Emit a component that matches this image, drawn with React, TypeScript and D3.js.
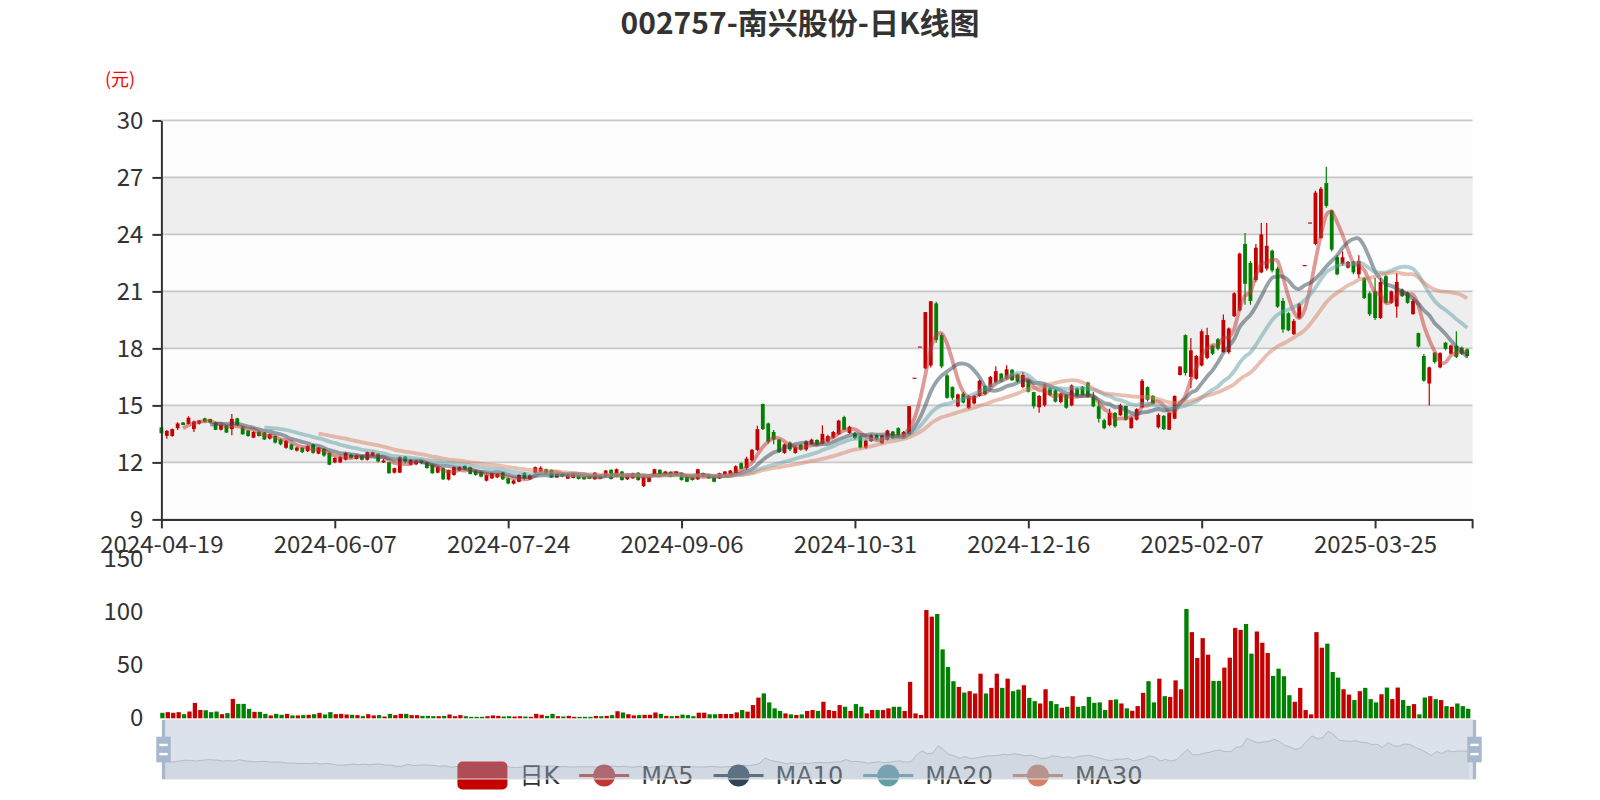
import { useEffect, useRef } from "react";
import * as d3 from "d3";

const title = "002757-南兴股份-日K线图";
const unitLabel = "(元)";
const firstDay = "2024-04-19";
const lastDay = "2025-04-21";
// exchange closed on these weekdays
const holidays = [
  "2024-05-01", "2024-05-02", "2024-05-03", "2024-06-10", "2024-09-16", "2024-09-17",
  "2024-10-01", "2024-10-02", "2024-10-03", "2024-10-04", "2024-10-07", "2025-01-01",
  "2025-01-28", "2025-01-29", "2025-01-30", "2025-01-31", "2025-02-03", "2025-02-04", "2025-04-04",
];
const labelEvery = 32;

const priceTicks = [9, 12, 15, 18, 21, 24, 27, 30];
const volumeTicks = [0, 50, 100, 150];

// [open, close, low, high]
const kData: [number, number, number, number][] = [
  [13.84, 13.54, 13.5, 13.88], [13.4, 13.66, 13.25, 13.71], [13.39, 13.75, 13.35, 13.78], [13.8, 14.05, 13.7, 14.11],
  [14.1, 13.97, 13.95, 14.12], [14.02, 14.35, 14.0, 14.43], [13.75, 14.15, 13.6, 14.2], [14.05, 14.2, 14.0, 14.22],
  [14.32, 14.15, 14.1, 14.35], [14.28, 14.1, 14.05, 14.3], [14.1, 13.72, 13.7, 14.15], [13.72, 13.96, 13.68, 14.0],
  [13.93, 13.57, 13.55, 13.96], [13.75, 14.29, 13.43, 14.55], [14.32, 13.96, 13.9, 14.35], [13.84, 13.48, 13.45, 13.88],
  [13.66, 13.39, 13.35, 13.7], [13.3, 13.61, 13.28, 13.64], [13.61, 13.39, 13.36, 13.64], [13.57, 13.21, 13.18, 13.6],
  [13.25, 13.48, 13.2, 13.52], [13.39, 13.04, 13.0, 13.42], [13.21, 12.95, 12.9, 13.25], [12.77, 13.13, 12.72, 13.18],
  [12.95, 12.68, 12.65, 12.98], [12.62, 12.78, 12.58, 12.82], [12.77, 12.54, 12.5, 12.8], [12.59, 12.86, 12.55, 12.9],
  [12.95, 12.5, 12.46, 12.98], [12.46, 12.77, 12.43, 12.8], [12.71, 12.36, 12.3, 12.75], [12.5, 11.88, 11.85, 12.52],
  [12.0, 12.23, 11.95, 12.27], [12.0, 12.29, 11.97, 12.32], [12.14, 12.5, 12.1, 12.54], [12.41, 12.23, 12.2, 12.45],
  [12.18, 12.36, 12.15, 12.4], [12.36, 12.14, 12.1, 12.4], [12.14, 12.54, 12.1, 12.58], [12.36, 12.54, 12.33, 12.58],
  [12.46, 12.05, 12.0, 12.5], [12.0, 12.1, 11.97, 12.18], [12.0, 11.43, 11.4, 12.02], [11.46, 11.7, 11.42, 11.72],
  [11.46, 12.29, 11.44, 12.32], [12.3, 12.05, 11.95, 12.34], [11.88, 12.14, 11.85, 12.18], [11.9, 12.05, 11.85, 12.14],
  [12.11, 11.96, 11.9, 12.14], [12.0, 11.7, 11.68, 12.03], [11.88, 11.43, 11.4, 11.9], [11.46, 11.75, 11.43, 11.78],
  [11.7, 11.11, 11.08, 11.73], [11.1, 11.6, 11.05, 11.62], [11.34, 11.75, 11.3, 11.78], [11.57, 11.75, 11.55, 11.78],
  [11.82, 11.64, 11.6, 11.85], [11.75, 11.39, 11.36, 11.78], [11.57, 11.34, 11.3, 11.6], [11.5, 11.25, 11.22, 11.53],
  [11.04, 11.34, 11.0, 11.37], [11.16, 11.43, 11.12, 11.46], [11.21, 11.39, 11.18, 11.42], [11.46, 11.11, 11.08, 11.5],
  [11.16, 10.89, 10.85, 11.2], [10.88, 11.05, 10.84, 11.1], [10.98, 11.34, 10.95, 11.37], [11.46, 11.14, 11.1, 11.48],
  [11.11, 11.34, 11.08, 11.37], [11.46, 11.75, 11.42, 11.78], [11.52, 11.72, 11.5, 11.8], [11.64, 11.43, 11.4, 11.68],
  [11.61, 11.21, 11.18, 11.63], [11.21, 11.39, 11.18, 11.42], [11.43, 11.25, 11.22, 11.46], [11.14, 11.36, 11.12, 11.38],
  [11.18, 11.43, 11.16, 11.46], [11.3, 11.13, 11.1, 11.33], [11.25, 11.11, 11.09, 11.27], [11.29, 11.14, 11.12, 11.3],
  [11.11, 11.46, 11.09, 11.48], [11.34, 11.14, 11.12, 11.36], [11.25, 11.57, 11.23, 11.6], [11.61, 11.13, 11.1, 11.64],
  [11.25, 11.64, 11.22, 11.68], [11.52, 11.07, 11.05, 11.55], [11.11, 11.34, 11.08, 11.36], [11.16, 11.43, 11.14, 11.46],
  [11.46, 11.07, 11.04, 11.48], [10.75, 11.25, 10.71, 11.28], [10.98, 11.25, 10.95, 11.28], [11.28, 11.64, 11.25, 11.67],
  [11.61, 11.38, 11.35, 11.64], [11.34, 11.52, 11.3, 11.55], [11.5, 11.25, 11.22, 11.53], [11.32, 11.52, 11.3, 11.55],
  [11.46, 11.07, 11.04, 11.48], [11.29, 10.98, 10.95, 11.3], [11.25, 11.07, 11.05, 11.27], [11.11, 11.64, 11.08, 11.67],
  [11.25, 11.43, 11.22, 11.46], [11.38, 11.16, 11.14, 11.4], [11.25, 10.98, 10.95, 11.27], [11.16, 11.43, 11.13, 11.46],
  [11.3, 11.52, 11.28, 11.55], [11.34, 11.57, 11.3, 11.6], [11.43, 11.8, 11.4, 11.85], [11.96, 11.66, 11.62, 12.0],
  [11.7, 12.2, 11.62, 12.3], [12.1, 12.66, 12.05, 12.7], [12.66, 13.75, 12.6, 13.93], [15.07, 13.75, 13.7, 15.1],
  [14.05, 13.1, 13.0, 14.1], [13.6, 13.2, 12.95, 13.7], [13.2, 12.55, 12.5, 13.25], [12.5, 12.95, 12.45, 13.0],
  [13.04, 12.68, 12.6, 13.1], [12.5, 12.8, 12.45, 12.85], [12.92, 12.68, 12.62, 12.95], [12.68, 13.1, 12.6, 13.15],
  [12.98, 13.2, 12.95, 13.25], [13.18, 12.94, 12.9, 13.22], [13.0, 13.5, 12.95, 13.95], [13.1, 13.38, 13.05, 13.45],
  [13.3, 13.6, 13.25, 13.65], [13.48, 14.2, 13.45, 14.25], [14.38, 13.72, 13.7, 14.45], [13.55, 13.88, 13.5, 13.92],
  [13.53, 13.28, 13.2, 13.6], [13.36, 12.77, 12.72, 13.4], [12.77, 13.15, 12.72, 13.2], [13.12, 13.42, 13.08, 13.48],
  [13.44, 13.22, 13.18, 13.48], [13.0, 13.42, 12.95, 13.46], [13.2, 13.68, 13.15, 13.72], [13.62, 13.27, 13.22, 13.66],
  [13.8, 13.38, 13.33, 13.85], [13.3, 13.6, 13.25, 13.65], [13.5, 14.96, 13.45, 14.96], [16.46, 16.46, 16.46, 16.46],
  [18.1, 18.1, 18.1, 18.1], [16.95, 19.91, 16.9, 19.91], [17.1, 20.48, 17.0, 20.5], [20.37, 18.45, 18.3, 20.45],
  [18.7, 17.05, 16.95, 18.8], [16.58, 15.4, 15.35, 16.65], [15.97, 15.4, 15.3, 16.0], [14.95, 15.58, 14.9, 15.62],
  [15.62, 15.15, 15.1, 15.7], [14.85, 15.5, 14.8, 15.55], [15.1, 15.5, 15.05, 15.55], [15.5, 16.3, 15.45, 16.35],
  [16.0, 15.6, 15.55, 16.05], [15.97, 16.5, 15.9, 16.55], [16.2, 16.8, 16.15, 17.06], [16.67, 16.24, 16.2, 16.7],
  [16.41, 16.9, 16.35, 17.11], [16.88, 16.32, 16.3, 16.9], [16.64, 16.26, 16.2, 16.7], [15.97, 16.6, 15.9, 16.76],
  [16.32, 15.72, 15.68, 16.35], [15.7, 14.95, 14.84, 15.72], [14.9, 15.5, 14.61, 15.55], [15.0, 16.1, 14.93, 16.15],
  [15.89, 15.56, 15.5, 15.95], [15.8, 15.2, 15.15, 15.85], [15.18, 15.6, 15.1, 15.65], [15.56, 14.88, 14.83, 15.6],
  [15.0, 16.05, 14.95, 16.1], [15.9, 15.52, 15.45, 15.95], [15.98, 15.55, 15.5, 16.02], [16.2, 15.45, 15.4, 16.25],
  [15.45, 14.95, 14.9, 15.7], [14.95, 14.3, 14.1, 15.21], [14.22, 13.8, 13.75, 14.3], [13.96, 14.6, 13.9, 14.83],
  [14.6, 13.9, 13.82, 14.65], [14.48, 15.0, 14.45, 15.09], [14.97, 14.25, 14.2, 15.0], [13.8, 14.35, 13.78, 14.4],
  [14.25, 14.8, 14.2, 14.85], [14.9, 16.3, 14.88, 16.39], [15.96, 15.3, 15.2, 16.0], [15.5, 15.1, 15.05, 15.55],
  [13.85, 14.5, 13.78, 14.57], [14.45, 13.75, 13.7, 14.5], [13.72, 14.6, 13.7, 14.65], [14.3, 15.5, 14.27, 15.52],
  [16.6, 17.05, 16.57, 17.05], [18.7, 16.7, 16.57, 18.74], [16.5, 17.9, 15.9, 18.55], [16.4, 17.6, 16.35, 17.65],
  [17.1, 18.9, 17.05, 19.0], [17.5, 18.7, 17.43, 19.09], [18.13, 17.72, 17.65, 18.2], [18.48, 17.98, 17.9, 18.55],
  [17.8, 19.5, 17.78, 19.78], [17.8, 19.05, 17.7, 19.1], [19.7, 20.9, 19.65, 20.95], [20.0, 22.99, 19.96, 23.03],
  [23.5, 21.4, 20.3, 24.08], [22.5, 20.5, 20.3, 22.6], [21.6, 23.3, 21.5, 23.5], [22.0, 24.0, 21.96, 24.6],
  [22.2, 23.4, 22.1, 24.6], [23.14, 22.1, 22.0, 23.2], [22.2, 20.2, 20.13, 22.3], [20.5, 19.0, 18.83, 20.65],
  [19.85, 18.95, 18.9, 19.9], [18.75, 19.45, 18.7, 19.55], [19.6, 20.35, 19.55, 20.4], [22.39, 22.39, 22.39, 22.39],
  [24.63, 24.63, 24.63, 24.63], [23.5, 26.2, 23.43, 26.3], [23.8, 26.4, 23.78, 26.5], [26.7, 25.5, 25.4, 27.56],
  [25.26, 23.2, 23.1, 25.3], [22.8, 21.9, 21.85, 22.9], [22.45, 22.8, 22.35, 23.1], [22.25, 22.55, 22.2, 22.6],
  [22.57, 22.0, 21.9, 22.6], [21.9, 22.6, 21.7, 22.9], [21.7, 20.65, 20.6, 21.75], [20.9, 19.8, 19.7, 21.0],
  [21.0, 19.6, 19.5, 21.7], [19.6, 21.5, 19.55, 21.7], [21.8, 20.4, 20.36, 21.87], [20.4, 21.0, 20.35, 21.05],
  [20.2, 21.5, 19.61, 21.96], [21.09, 20.75, 20.7, 21.15], [20.95, 20.4, 20.35, 21.0], [19.8, 20.5, 19.78, 20.6],
  [18.8, 18.1, 18.04, 18.83], [17.6, 16.3, 16.25, 17.7], [16.15, 17.0, 15.0, 17.05], [17.78, 17.28, 17.2, 17.8],
  [17.0, 17.75, 16.95, 17.8], [18.3, 17.98, 17.9, 18.35], [17.72, 18.15, 17.68, 18.2], [18.13, 17.55, 17.5, 18.9],
  [18.04, 17.72, 17.65, 18.1], [17.95, 17.6, 17.5, 18.0],
];

const volumes = [
  5.2, 5.8, 5.2, 5.8, 3.9, 6.4, 14.5, 7.9, 7.6, 5.8, 6.4, 3.9, 4.9, 18.3, 13.6, 13.6, 8.9, 6.1, 6.1, 4.2,
  2.7, 4.2, 3.3, 4.2, 2.7, 2.7, 3.0, 3.3, 3.9, 5.2, 3.6, 5.8, 3.9, 4.2, 3.6, 3.3, 3.0, 2.0, 3.9, 2.7,
  3.0, 1.7, 4.2, 3.0, 4.2, 4.2, 3.0, 3.0, 2.3, 2.3, 2.0, 2.0, 2.3, 3.6, 2.0, 3.0, 2.0, 1.4, 1.4, 1.4,
  2.0, 2.7, 2.3, 1.7, 2.0, 1.7, 2.0, 1.7, 1.4, 4.2, 3.3, 2.3, 4.2, 2.0, 1.7, 2.3, 1.4, 1.4, 1.4, 1.4,
  2.3, 2.0, 2.3, 3.0, 6.7, 5.5, 3.9, 2.7, 3.0, 3.3, 3.3, 5.5, 4.2, 2.3, 2.0, 2.3, 3.5, 3.0, 2.0, 5.3,
  5.3, 3.8, 3.8, 4.1, 4.1, 4.1, 5.6, 7.8, 6.3, 12.5, 19.5, 23.5, 15, 9.4, 6.9, 4.6, 3.7, 3.1, 3.7, 6.9,
  7.8, 6.9, 15.6, 7.8, 6.9, 12.5, 10.9, 6.9, 13.4, 10.9, 4.6, 7.8, 7.8, 7.8, 9.4, 10.9, 10.9, 6.9, 34.4, 4.6,
  3.1, 102.2, 95.9, 98.4, 65, 48.4, 35, 29.6, 24.3, 25.6, 23.4, 42.1, 23.4, 28.7, 42.1, 28.7, 37.4, 25.6, 27.1, 31.2,
  19.3, 16.2, 14, 27.4, 16.2, 13.4, 9.9, 10.9, 20.9, 10.9, 11.5, 20.2, 14.6, 15, 7.8, 17.2, 17.8, 14, 9.4, 7.1,
  11.5, 24, 35, 15, 37.4, 20.9, 20.2, 35.8, 27.4, 103.1, 81.3, 56.9, 75.6, 60, 35.3, 35.3, 47.8, 57.2, 85.3, 83.4,
  89, 61, 81.9, 71.3, 61.6, 40, 46.8, 39.7, 21.8, 15.6, 28.7, 7.8, 3.7, 81.3, 66.6, 70.4, 43.7, 38.4, 27.4, 22.4,
  17.2, 25.6, 28.7, 18.1, 15, 22.7, 29, 18.1, 29, 17.2, 11.8, 13.4, 3.7, 19.6, 20.9, 18.1, 17.2, 11.5, 10.9, 14,
  11.5, 9,
];

const maPeriods = [5, 10, 20, 30];
const maColors = ["#c23531", "#2f4554", "#61a0a8", "#d48265"];
const upColor = "#c40000";
const downColor = "#008000";

function tradingDays(from: string, to: string, closed: string[]) {
  const skip = new Set(closed);
  const out: string[] = [];
  const end = new Date(to + "T00:00:00Z");
  for (let d = new Date(from + "T00:00:00Z"); d <= end; d.setUTCDate(d.getUTCDate() + 1)) {
    const wd = d.getUTCDay();
    const s = d.toISOString().slice(0, 10);
    if (wd !== 0 && wd !== 6 && !skip.has(s)) out.push(s);
  }
  return out;
}

function movingAverage(period: number) {
  return kData.map((_, i) => {
    if (i < period - 1) return null;
    let s = 0;
    for (let j = 0; j < period; j++) s += kData[i - j][1];
    return s / period;
  });
}

const FONT = "'Noto Sans CJK SC', 'Noto Sans', sans-serif";
const LEGEND_FONT = "'DejaVu Sans', 'Noto Sans CJK SC', sans-serif";

export default function App() {
  const ref = useRef<SVGSVGElement>(null);
  const width = 1600;
  const height = 800;

  useEffect(() => {
    draw();
  });

  function draw() {
    const svg = d3.select(ref.current);
    svg.selectAll("*").remove();

    const dates = tradingDays(firstDay, lastDay, holidays);
    const L = 161.4, R = 1472.6, T = 120.4, B = 519.4;
    const VT = 559.3, VB = 718.3;

    const x = d3.scalePoint<string>().domain(dates).range([L, R]);
    const y = d3.scaleLinear().domain([9, 30]).range([B, T]);
    const vy = d3.scaleLinear().domain([0, 150]).range([VB, VT]);
    const xi = (i: number) => x(dates[i])!;

    svg.append("rect").attr("width", width).attr("height", height).attr("fill", "#fff");

    // title and unit
    svg.append("text")
      .attr("x", 800).attr("y", 34)
      .attr("text-anchor", "middle")
      .attr("font-family", FONT).attr("font-size", 30).attr("font-weight", 700)
      .attr("fill", "#333")
      .text(title);
    svg.append("text")
      .attr("x", 120).attr("y", 86)
      .attr("text-anchor", "middle")
      .attr("font-family", FONT).attr("font-size", 18)
      .attr("fill", "#f00")
      .text(unitLabel);

    // split areas + split lines
    const plot = svg.append("g");
    priceTicks.slice(0, -1).forEach((t, i) => {
      plot.append("rect")
        .attr("x", L).attr("width", R - L)
        .attr("y", y(priceTicks[i + 1])).attr("height", y(t) - y(priceTicks[i + 1]))
        .attr("fill", i % 2 === 0 ? "#fdfdfd" : "#eeeeee");
    });
    priceTicks.forEach((t) => {
      plot.append("line")
        .attr("x1", L).attr("x2", R).attr("y1", y(t)).attr("y2", y(t))
        .attr("stroke", "#c8c8c8").attr("stroke-width", 1.6);
    });

    // candles
    const bw = 3.8;
    kData.forEach((d, i) => {
      const [o, c, lo, hi] = d;
      const col = c >= o ? upColor : downColor;
      const cx = xi(i);
      plot.append("line")
        .attr("x1", cx).attr("x2", cx).attr("y1", y(hi)).attr("y2", y(lo))
        .attr("stroke", col).attr("stroke-width", 1.2);
      const top = y(Math.max(o, c));
      plot.append("rect")
        .attr("x", cx - bw / 2).attr("y", top)
        .attr("width", bw).attr("height", Math.max(1.2, y(Math.min(o, c)) - top))
        .attr("fill", col);
    });

    // moving averages
    maPeriods.forEach((p, k) => {
      const ma = movingAverage(p);
      const line = d3.line<number | null>()
        .defined((v) => v !== null)
        .x((_, i) => xi(i))
        .y((v) => y(v as number))
        .curve(d3.curveCardinal.tension(0.2));
      plot.append("path")
        .attr("d", line(ma))
        .attr("fill", "none")
        .attr("stroke", maColors[k])
        .attr("stroke-width", 3.8)
        .attr("stroke-opacity", 0.5);
    });

    // axes
    const labelDates = dates.filter((_, i) => i % labelEvery === 0);
    const xAxis = svg.append("g")
      .attr("transform", `translate(0,${B})`)
      .call(d3.axisBottom(x).tickValues(labelDates).tickSize(9).tickSizeOuter(0).tickPadding(8));
    xAxis.select(".domain").attr("stroke", "#333").attr("stroke-width", 2);
    xAxis.selectAll(".tick line").attr("stroke", "#333").attr("stroke-width", 2);
    xAxis.selectAll("text").attr("font-family", FONT).attr("font-size", 24).attr("fill", "#333");
    svg.append("line")
      .attr("x1", R).attr("x2", R).attr("y1", B).attr("y2", B + 9)
      .attr("stroke", "#333").attr("stroke-width", 2);

    const yAxis = svg.append("g")
      .attr("transform", `translate(${L},0)`)
      .call(d3.axisLeft(y).tickValues(priceTicks).tickSize(9).tickSizeOuter(0).tickPadding(9));
    yAxis.select(".domain").attr("stroke", "#333").attr("stroke-width", 2);
    yAxis.selectAll(".tick line").attr("stroke", "#333").attr("stroke-width", 2);
    yAxis.selectAll("text").attr("font-family", FONT).attr("font-size", 24).attr("fill", "#333");

    // volume
    const vol = svg.append("g");
    volumes.forEach((v, i) => {
      const [o, c] = kData[i];
      vol.append("rect")
        .attr("x", xi(i) - 2.15 + 1).attr("y", vy(v))
        .attr("width", 4.3).attr("height", VB - vy(v))
        .attr("fill", c >= o ? upColor : downColor);
    });
    const vAxis = svg.append("g")
      .attr("transform", `translate(${L},0)`)
      .call(d3.axisLeft(vy).tickValues(volumeTicks).tickSize(0).tickPadding(18));
    vAxis.select(".domain").remove();
    vAxis.selectAll("text").attr("font-family", FONT).attr("font-size", 24).attr("fill", "#333");

    // legend
    const legend = svg.append("g");
    const names = ["日K", ...maPeriods.map((p) => "MA" + p)];
    const colors = [upColor, ...maColors];
    const ly = 775.5;
    const items = names.map((n, k) => {
      const g = legend.append("g");
      const t = g.append("text")
        .attr("x", 62).attr("y", ly + 8.5)
        .attr("font-family", LEGEND_FONT).attr("font-size", 24).attr("fill", "#333")
        .text(n);
      if (k === 0) {
        g.append("rect").attr("x", 0).attr("y", ly - 14).attr("width", 50).attr("height", 28)
          .attr("rx", 5).attr("fill", colors[k]);
      } else {
        g.append("line").attr("x1", 0).attr("x2", 50).attr("y1", ly).attr("y2", ly)
          .attr("stroke", colors[k]).attr("stroke-width", 3);
        g.append("circle").attr("cx", 25).attr("cy", ly).attr("r", 11).attr("fill", colors[k]);
      }
      return { g, w: 62 + (t.node() as SVGTextElement).getComputedTextLength() };
    });
    const gap = 20;
    const total = d3.sum(items, (d) => d.w) + gap * (items.length - 1);
    let lx = 800 - total / 2;
    items.forEach((it) => {
      it.g.attr("transform", `translate(${lx},0)`);
      lx += it.w + gap;
    });

    // data zoom slider
    const SX0 = 163.5, SX1 = 1474.5, SY0 = 720, SY1 = 779;
    const opens = kData.map((d) => d[0]);
    const [omin, omax] = d3.extent(opens) as [number, number];
    const pad = (omax - omin) * 0.3;
    const sx = d3.scaleLinear().domain([0, dates.length - 1]).range([SX0, SX1]);
    const sy = d3.scaleLinear().domain([omin - pad, omax + pad]).range([SY1, SY0]);
    const slider = svg.append("g");
    slider.append("path")
      .attr("d", d3.area<number>().x((_, i) => sx(i)).y0(SY1).y1((v) => sy(v))(opens))
      .attr("fill", "#2f4554").attr("fill-opacity", 0.09);
    slider.append("path")
      .attr("d", d3.line<number>().x((_, i) => sx(i)).y((v) => sy(v))(opens))
      .attr("fill", "none").attr("stroke", "#2f4554").attr("stroke-opacity", 0.3).attr("stroke-width", 1);
    slider.append("rect")
      .attr("x", SX0).attr("y", SY0).attr("width", SX1 - SX0).attr("height", SY1 - SY0)
      .attr("fill", "rgba(167,183,204,0.4)").attr("stroke", "#ddd").attr("stroke-width", 1);
    [SX0, SX1].forEach((hx) => {
      slider.append("rect").attr("x", hx - 1.65).attr("y", SY0).attr("width", 3.3).attr("height", SY1 - SY0)
        .attr("fill", "#a7b7cc");
      slider.append("rect").attr("x", hx - 7.2).attr("y", 736.7).attr("width", 14.4).attr("height", 25.6)
        .attr("fill", "#a7b7cc");
      [743.7, 752.9].forEach((sy0) => {
        slider.append("rect").attr("x", hx - 4.2).attr("y", sy0).attr("width", 8.4).attr("height", 2.4)
          .attr("fill", "#fff");
      });
    });
  }

  return (
    <svg
      ref={ref}
      width={width}
      height={height}
      style={{ position: "absolute", left: 0, top: 0 }}
    ></svg>
  );
}
